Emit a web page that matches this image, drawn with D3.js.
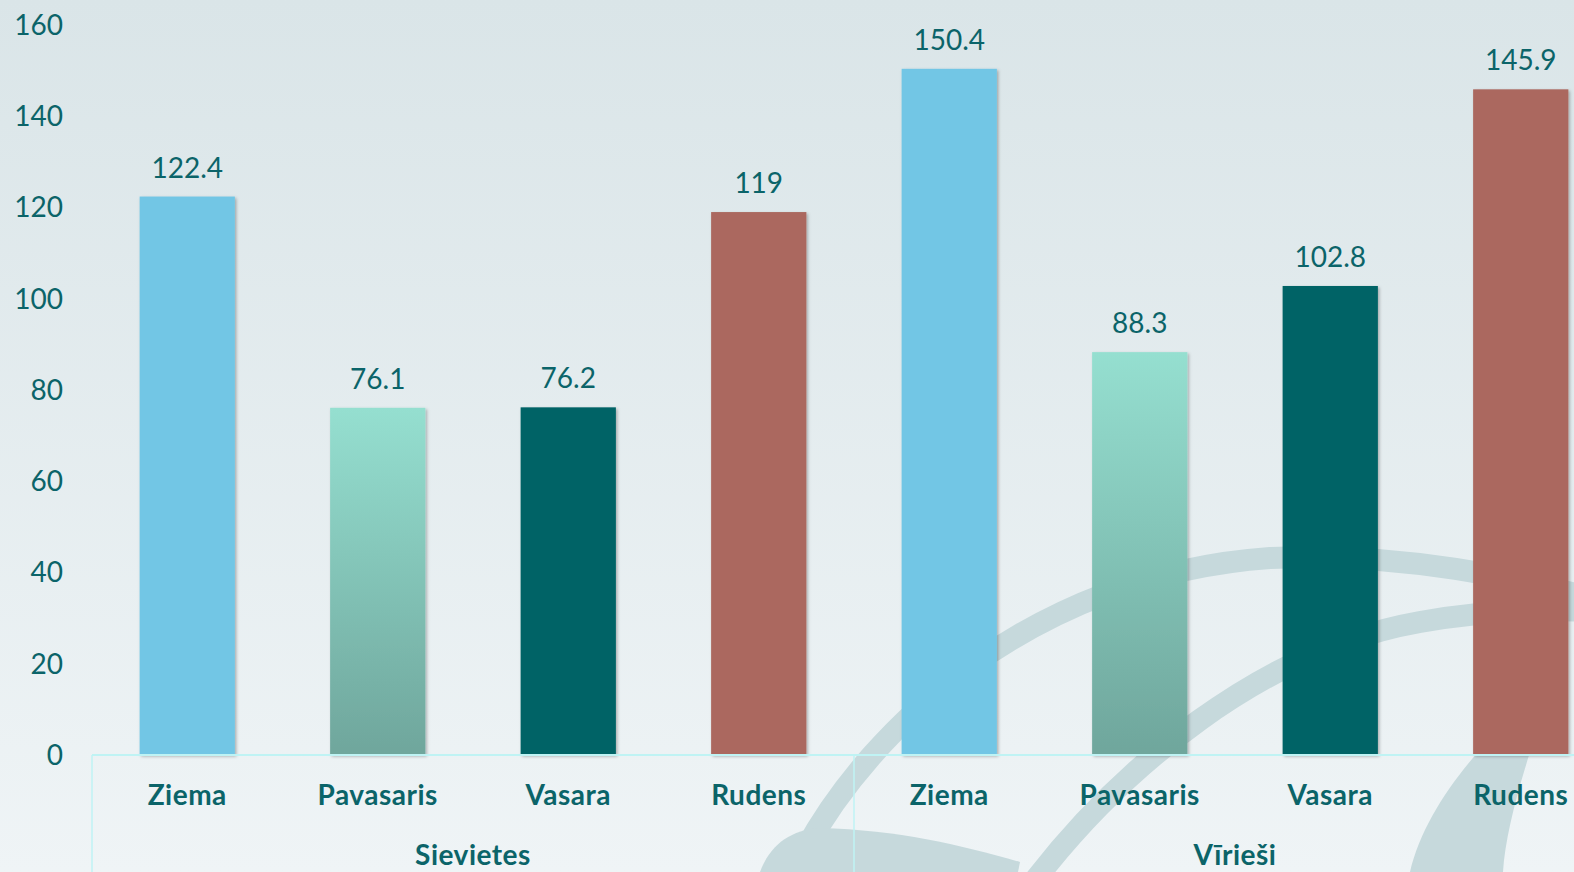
<!DOCTYPE html>
<html>
<head>
<meta charset="utf-8">
<script src="https://cdn.jsdelivr.net/npm/d3@7"></script>
<style>
  html, body { margin: 0; padding: 0; overflow: hidden; }
  body { width: 1574px; height: 872px; }
  text { font-family: Lato, "Open Sans", sans-serif; }
</style>
</head>
<body>
<div class="canvas"></div>
<script>
const seasons = ['Ziema', 'Pavasaris', 'Vasara', 'Rudens'];
const groups = ['Sievietes', 'Vīrieši'];
const womenValues = [122.4, 76.1, 76.2, 119];
const menValues = [150.4, 88.3, 102.8, 145.9];
const yTicks = [0, 20, 40, 60, 80, 100, 120, 140, 160];

const seasonColour = {
  Ziema: '#72c6e5',
  Pavasaris: 'url(#springGrad)',
  Vasara: '#006366',
  Rudens: '#ab685e'
};

// flat rows: one per bar
const rows = [];
groups.forEach((g, gi) => {
  const vals = gi === 0 ? womenValues : menValues;
  seasons.forEach((s, si) => rows.push({ key: g + '-' + s, group: g, season: s, value: vals[si] }));
});

const width = 1574, height = 872;
const textCol = '#0b6469';

const svg = d3.select('.canvas')
  .append('svg')
  .attr('width', width)
  .attr('height', height);

const defs = svg.append('defs');

const bg = defs.append('linearGradient')
  .attr('id', 'bgGrad').attr('x1', 0).attr('y1', 0).attr('x2', 0).attr('y2', 1);
bg.append('stop').attr('offset', '0%').attr('stop-color', '#dae5e8');
bg.append('stop').attr('offset', '100%').attr('stop-color', '#eff4f6');

const spring = defs.append('linearGradient')
  .attr('id', 'springGrad').attr('x1', 0).attr('y1', 0).attr('x2', 0).attr('y2', 1);
spring.append('stop').attr('offset', '0%').attr('stop-color', '#95dfd0');
spring.append('stop').attr('offset', '100%').attr('stop-color', '#6fa69c');

const shadow = defs.append('filter').attr('id', 'barShadow')
  .attr('x', '-10%').attr('y', '-5%').attr('width', '130%').attr('height', '115%');
shadow.append('feDropShadow')
  .attr('dx', 1.5).attr('dy', 1.5).attr('stdDeviation', 1.8)
  .attr('flood-color', '#000').attr('flood-opacity', 0.28);

svg.append('rect')
  .attr('width', width).attr('height', height)
  .attr('fill', 'url(#bgGrad)');

// decorative logo swooshes in the background
const deco = svg.append('g').attr('fill', 'none').attr('stroke', '#c6d9dc');
deco.append('path')
  .attr('d', 'M 805 850 C 870 730, 1030 575, 1270 558 C 1410 552, 1520 580, 1600 600')
  .attr('stroke-width', 22);
deco.append('path')
  .attr('d', 'M 1035 880 C 1120 770, 1260 650, 1420 622 C 1490 610, 1550 608, 1600 612')
  .attr('stroke-width', 22);
deco.append('path')
  .attr('fill', '#c6d9dc').attr('stroke', 'none')
  .attr('d', 'M 760 872 C 770 845, 790 830, 820 828 C 900 830, 960 845, 1020 862 L 1018 872 Z');
deco.append('path')
  .attr('fill', '#c6d9dc').attr('stroke', 'none')
  .attr('d', 'M 1478 752 L 1530 752 C 1515 800, 1505 840, 1503 872 L 1410 872 C 1420 830, 1445 790, 1478 752 Z');

const x = d3.scaleBand()
  .domain(rows.map(d => d.key))
  .range([92, 1616])
  .paddingInner(0.5)
  .paddingOuter(0.25);

const y = d3.scaleLinear()
  .domain([0, 160])
  .range([755, 25]);

// y tick labels (no gridlines)
svg.append('g')
  .selectAll('text')
  .data(yTicks)
  .enter()
  .append('text')
  .attr('x', 63)
  .attr('y', d => y(d))
  .attr('dy', '0.35em')
  .attr('text-anchor', 'end')
  .attr('fill', textCol)
  .style('font-size', '28px')
  .text(d => d);

// bars
svg.append('g')
  .selectAll('rect')
  .data(rows)
  .enter()
  .append('rect')
  .attr('x', d => x(d.key))
  .attr('y', d => y(d.value))
  .attr('width', x.bandwidth())
  .attr('height', d => y(0) - y(d.value))
  .attr('fill', d => seasonColour[d.season])
  .attr('filter', 'url(#barShadow)');

// value labels
svg.append('g')
  .selectAll('text')
  .data(rows)
  .enter()
  .append('text')
  .attr('x', d => x(d.key) + x.bandwidth() / 2)
  .attr('y', d => y(d.value) - 19)
  .attr('text-anchor', 'middle')
  .attr('fill', textCol)
  .style('font-size', '28px')
  .text(d => d.value);

// category axis with group separators
const axisCol = '#bff3f4';
const axis = svg.append('g');
axis.append('line')
  .attr('x1', 92).attr('x2', 1616)
  .attr('y1', y(0)).attr('y2', y(0))
  .attr('stroke', axisCol).attr('stroke-width', 2);

const groupEdges = [0, 4, 8].map(i => 92 + i * x.step());
axis.selectAll('line.sep')
  .data(groupEdges)
  .enter()
  .append('line')
  .attr('class', 'sep')
  .attr('x1', d => d).attr('x2', d => d)
  .attr('y1', y(0)).attr('y2', height)
  .attr('stroke', axisCol).attr('stroke-width', 1.5);

axis.selectAll('text.season')
  .data(rows)
  .enter()
  .append('text')
  .attr('class', 'season')
  .attr('x', d => x(d.key) + x.bandwidth() / 2)
  .attr('y', 805)
  .attr('text-anchor', 'middle')
  .attr('fill', textCol)
  .style('font-size', '28px')
  .style('font-weight', 'bold')
  .style('letter-spacing', '0.5px')
  .text(d => d.season);

axis.selectAll('text.group')
  .data(groups)
  .enter()
  .append('text')
  .attr('class', 'group')
  .attr('x', (d, i) => (groupEdges[i] + groupEdges[i + 1]) / 2)
  .attr('y', 865)
  .attr('text-anchor', 'middle')
  .attr('fill', textCol)
  .style('font-size', '28px')
  .style('font-weight', 'bold')
  .style('letter-spacing', '0.5px')
  .text(d => d);
</script>
</body>
</html>
